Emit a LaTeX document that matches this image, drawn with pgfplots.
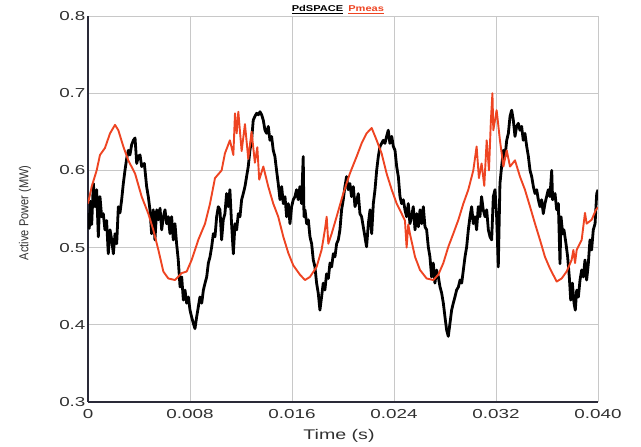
\documentclass[border=0pt]{standalone}
\usepackage{pgfplots}
\pgfplotsset{compat=1.18}
\usepackage{fontspec}
\setmainfont{Liberation Sans}
\definecolor{pmeas}{HTML}{EE4422}
\definecolor{axdark}{HTML}{2A2A38}
\definecolor{gridgray}{HTML}{C8C8C8}
\definecolor{ticktext}{HTML}{303030}
\newcommand{\sx}[1]{\scalebox{1.45}[1]{#1}}
\begin{document}
\begin{tikzpicture}
\useasboundingbox (-88pt,-45pt) rectangle (553pt,402pt);
\begin{axis}[
  at={(0,0)}, anchor=south west,
  scale only axis, width=510pt, height=386pt,
  xmin=0, xmax=0.04, ymin=0.3, ymax=0.8,
  axis lines*=left,
  axis line style={axdark, line width=1.3pt},
  scaled x ticks=false, scaled y ticks=false,
  xtick={0,0.008,0.016,0.024,0.032,0.04},
  xticklabels={\sx{0},\sx{0.008},\sx{0.016},\sx{0.024},\sx{0.032},\sx{0.040}},
  ytick={0.3,0.4,0.5,0.6,0.7,0.8},
  yticklabels={\sx{0.3},\sx{0.4},\sx{0.5},\sx{0.6},\sx{0.7},\sx{0.8}},
  major tick length=0pt,
  grid=major,
  major grid style={gridgray, line width=0.8pt},
  tick label style={font=\fontsize{13}{14}\selectfont, text=ticktext},
  xticklabel style={yshift=-4pt},
  yticklabel style={xshift=1pt},
  clip mode=individual,
]
\addplot[black, line width=2.8pt, line join=round] coordinates {
(0.0,0.545)(0.00010,0.525)(0.00020,0.560)(0.00029,0.530)(0.00042,0.583)(0.00055,0.553)
(0.00068,0.575)(0.00081,0.514)(0.00094,0.566)(0.00107,0.540)(0.00120,0.544)(0.00133,0.523)
(0.00146,0.535)(0.00159,0.492)(0.00173,0.523)(0.00186,0.510)(0.00199,0.492)(0.00212,0.518)
(0.00225,0.505)(0.00238,0.553)(0.00251,0.545)(0.00264,0.562)(0.00277,0.583)(0.00290,0.600)
(0.00303,0.615)(0.00316,0.626)(0.00329,0.620)(0.00342,0.633)(0.00356,0.639)(0.00369,0.642)
(0.00382,0.609)(0.00395,0.618)(0.00408,0.620)(0.00421,0.605)(0.00442,0.609)(0.00460,0.579)
(0.00473,0.566)(0.00486,0.549)(0.00499,0.518)(0.00512,0.549)(0.00525,0.510)(0.00539,0.549)
(0.00552,0.536)(0.00565,0.551)(0.00578,0.523)(0.00591,0.540)(0.00604,0.549)(0.00617,0.531)
(0.00630,0.540)(0.00643,0.518)(0.00656,0.540)(0.00669,0.510)(0.00682,0.531)(0.00695,0.505)
(0.00708,0.484)(0.00722,0.449)(0.00735,0.462)(0.00748,0.432)(0.00761,0.445)(0.00774,0.428)
(0.00787,0.436)(0.00800,0.419)(0.00813,0.410)(0.00826,0.402)(0.00839,0.395)(0.00852,0.410)
(0.00865,0.423)(0.00878,0.436)(0.00892,0.428)(0.00905,0.445)(0.00918,0.454)(0.00931,0.462)
(0.00944,0.480)(0.00957,0.488)(0.00970,0.501)(0.00983,0.518)(0.00996,0.514)(0.01009,0.540)
(0.01022,0.553)(0.01035,0.549)(0.01048,0.510)(0.01061,0.536)(0.01074,0.544)(0.01087,0.570)
(0.01100,0.553)(0.01113,0.575)(0.01126,0.531)(0.01140,0.492)(0.01153,0.531)(0.01166,0.523)
(0.01179,0.544)(0.01192,0.540)(0.01205,0.562)(0.01218,0.570)(0.01231,0.579)(0.01244,0.592)
(0.01257,0.605)(0.01270,0.626)(0.01283,0.639)(0.01296,0.665)(0.01309,0.670)(0.01323,0.674)
(0.01336,0.672)(0.01349,0.676)(0.01362,0.672)(0.01375,0.665)(0.01388,0.652)(0.01401,0.648)
(0.01414,0.657)(0.01427,0.639)(0.01440,0.644)(0.01453,0.626)(0.01466,0.618)(0.01479,0.600)
(0.01492,0.583)(0.01506,0.562)(0.01519,0.579)(0.01532,0.557)(0.01545,0.566)(0.01558,0.540)
(0.01571,0.557)(0.01584,0.531)(0.01597,0.553)(0.01610,0.562)(0.01623,0.566)(0.01636,0.575)
(0.01649,0.562)(0.01662,0.579)(0.01675,0.557)(0.01688,0.618)(0.01694,0.540)(0.01702,0.549)
(0.01715,0.531)(0.01728,0.536)(0.01741,0.514)(0.01754,0.505)(0.01767,0.484)(0.01780,0.475)
(0.01793,0.454)(0.01806,0.441)(0.01819,0.419)(0.01832,0.436)(0.01845,0.454)(0.01858,0.445)
(0.01871,0.466)(0.01885,0.460)(0.01898,0.480)(0.01911,0.475)(0.01924,0.492)(0.01937,0.488)
(0.01950,0.505)(0.01963,0.510)(0.01976,0.523)(0.01989,0.549)(0.02002,0.562)(0.02015,0.579)
(0.02028,0.592)(0.02041,0.575)(0.02054,0.583)(0.02067,0.566)(0.02081,0.579)(0.02094,0.553)
(0.02107,0.560)(0.02120,0.570)(0.02133,0.544)(0.02146,0.540)(0.02159,0.527)(0.02172,0.514)
(0.02185,0.501)(0.02199,0.531)(0.02212,0.549)(0.02225,0.518)(0.02238,0.557)(0.02251,0.575)
(0.02264,0.600)(0.02277,0.618)(0.02290,0.631)(0.02303,0.635)(0.02316,0.639)(0.02329,0.635)
(0.02342,0.644)(0.02355,0.652)(0.02368,0.635)(0.02382,0.644)(0.02395,0.631)(0.02408,0.626)
(0.02421,0.605)(0.02434,0.592)(0.02447,0.566)(0.02460,0.557)(0.02473,0.562)(0.02486,0.549)
(0.02499,0.540)(0.02512,0.557)(0.02525,0.531)(0.02538,0.540)(0.02551,0.553)(0.02565,0.523)
(0.02578,0.544)(0.02591,0.527)(0.02604,0.549)(0.02617,0.531)(0.02630,0.553)(0.02643,0.527)
(0.02656,0.523)(0.02669,0.501)(0.02682,0.488)(0.02695,0.462)(0.02708,0.480)(0.02721,0.454)
(0.02734,0.471)(0.02748,0.462)(0.02761,0.449)(0.02774,0.441)(0.02787,0.428)(0.02800,0.410)
(0.02813,0.393)(0.02826,0.385)(0.02839,0.402)(0.02852,0.419)(0.02865,0.428)(0.02878,0.436)
(0.02891,0.445)(0.02905,0.449)(0.02918,0.458)(0.02931,0.454)(0.02944,0.471)(0.02957,0.488)
(0.02970,0.501)(0.02983,0.523)(0.02996,0.540)(0.03009,0.553)(0.03022,0.531)(0.03035,0.540)
(0.03048,0.523)(0.03061,0.553)(0.03074,0.540)(0.03087,0.566)(0.03100,0.549)(0.03114,0.540)
(0.03127,0.549)(0.03140,0.523)(0.03153,0.514)(0.03166,0.510)(0.03179,0.566)(0.03192,0.575)
(0.03205,0.540)(0.03218,0.475)(0.03231,0.583)(0.03244,0.605)(0.03258,0.626)(0.03271,0.618)
(0.03284,0.639)(0.03297,0.648)(0.03310,0.670)(0.03323,0.678)(0.03336,0.665)(0.03349,0.644)
(0.03362,0.657)(0.03375,0.661)(0.03388,0.652)(0.03401,0.657)(0.03414,0.639)(0.03427,0.648)
(0.03441,0.631)(0.03454,0.618)(0.03467,0.600)(0.03480,0.592)(0.03493,0.579)(0.03506,0.570)
(0.03519,0.575)(0.03532,0.562)(0.03545,0.553)(0.03558,0.562)(0.03571,0.544)(0.03584,0.557)
(0.03597,0.566)(0.03610,0.575)(0.03623,0.566)(0.03637,0.600)(0.03644,0.562)(0.03663,0.570)
(0.03676,0.549)(0.03689,0.557)(0.03702,0.479)(0.03710,0.540)(0.03723,0.518)(0.03733,0.523)
(0.03749,0.505)(0.03762,0.488)(0.03775,0.462)(0.03786,0.432)(0.03799,0.454)(0.03812,0.428)
(0.03822,0.419)(0.03833,0.445)(0.03846,0.436)(0.03859,0.458)(0.03872,0.471)(0.03885,0.462)
(0.03898,0.484)(0.03911,0.458)(0.03924,0.479)(0.03937,0.510)(0.03950,0.497)(0.03963,0.523)
(0.03977,0.531)(0.03990,0.570)(0.0400,0.575)
};
\addplot[pmeas, line width=1.9pt, line join=round] coordinates {
(0.0000,0.557)(0.00029,0.579)(0.00068,0.600)(0.00094,0.620)(0.00133,0.629)(0.00173,0.648)
(0.00212,0.659)(0.00238,0.652)(0.00277,0.631)(0.00316,0.613)(0.00369,0.596)(0.00421,0.566)
(0.00473,0.544)(0.00512,0.523)(0.00552,0.497)(0.00591,0.469)(0.00630,0.460)(0.00682,0.458)
(0.00735,0.467)(0.00774,0.469)(0.00813,0.484)(0.00865,0.510)(0.00918,0.531)(0.00957,0.557)
(0.00996,0.590)(0.01048,0.600)(0.01074,0.622)(0.01113,0.639)(0.01140,0.620)(0.01153,0.674)
(0.01166,0.648)(0.01179,0.676)(0.01205,0.625)(0.01231,0.660)(0.01257,0.615)(0.01283,0.650)
(0.01309,0.610)(0.01328,0.630)(0.01343,0.588)(0.01375,0.605)(0.01414,0.579)(0.01453,0.557)
(0.01492,0.540)(0.01532,0.514)(0.01571,0.493)(0.01610,0.477)(0.01662,0.465)(0.01702,0.458)
(0.01741,0.462)(0.01793,0.475)(0.01832,0.497)(0.01858,0.523)(0.01872,0.540)(0.01885,0.505)
(0.01911,0.518)(0.01950,0.540)(0.02002,0.570)(0.02054,0.596)(0.02107,0.618)(0.02146,0.635)
(0.02185,0.648)(0.02225,0.655)(0.02264,0.639)(0.02303,0.622)(0.02342,0.596)(0.02382,0.575)
(0.02421,0.557)(0.02460,0.544)(0.02486,0.535)(0.02499,0.500)(0.02512,0.530)(0.02525,0.518)
(0.02565,0.488)(0.02604,0.471)(0.02656,0.460)(0.02708,0.458)(0.02748,0.465)(0.02787,0.480)
(0.02826,0.501)(0.02865,0.518)(0.02905,0.536)(0.02944,0.557)(0.02983,0.575)(0.03022,0.600)
(0.03048,0.631)(0.03066,0.590)(0.03087,0.609)(0.03108,0.580)(0.03127,0.639)(0.03145,0.600)
(0.03160,0.665)(0.03172,0.700)(0.03179,0.652)(0.03205,0.678)(0.03231,0.639)(0.03258,0.605)
(0.03284,0.626)(0.03310,0.605)(0.03349,0.613)(0.03388,0.592)(0.03427,0.575)(0.03467,0.553)
(0.03506,0.531)(0.03545,0.510)(0.03584,0.488)(0.03623,0.473)(0.03676,0.456)(0.03715,0.460)
(0.03754,0.469)(0.03793,0.484)(0.03807,0.497)(0.03820,0.480)(0.03833,0.497)(0.03872,0.510)
(0.03898,0.545)(0.03911,0.531)(0.03950,0.536)(0.03984,0.549)(0.0400,0.552)
};
\node[font=\fontsize{8.5}{9}\selectfont\bfseries, anchor=south, inner sep=0pt, yshift=2.5pt] at (rel axis cs:0.49,1)
  {\scalebox{1.3}[1]{\underline{PdSPACE}}\hspace{0.6em}\textcolor{pmeas}{\scalebox{1.3}[1]{\underline{Pmeas}}}};
\node[font=\fontsize{14}{15}\selectfont, text=ticktext, anchor=center, inner sep=0pt, xshift=-4pt, yshift=-34pt] at (rel axis cs:0.5,0)
  {\scalebox{1.4}[1]{Time (s)}};
\node[font=\fontsize{13}{14}\selectfont, text=ticktext, anchor=center, inner sep=0pt, xshift=-63pt, rotate=90] at (rel axis cs:0,0.49)
  {\scalebox{0.85}[1]{Active Power (MW)}};
\end{axis}
\end{tikzpicture}
\end{document}
